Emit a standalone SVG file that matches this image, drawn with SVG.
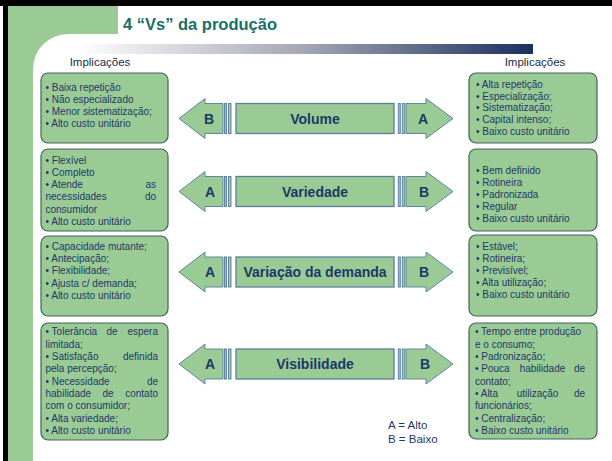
<svg xmlns="http://www.w3.org/2000/svg" xmlns:xlink="http://www.w3.org/1999/xlink" width="612" height="461" viewBox="0 0 612 461">
<defs>
<linearGradient id="bar" x1="0" y1="0" x2="1" y2="0">
<stop offset="0" stop-color="#ffffff"/>
<stop offset="0.5" stop-color="#a3a6b4"/>
<stop offset="1" stop-color="#1b2f5e"/>
</linearGradient>
<path id="larrow" d="M179,0 L205,-20 L205,-15 L223,-15 L223,15 L205,15 L205,20 Z"/>
<path id="rarrow" d="M453,0 L426,-20 L426,-15 L406,-15 L406,15 L426,15 L426,20 Z"/>
<g id="bars">
<rect x="224.5" y="-15" width="2" height="30"/>
<rect x="228.5" y="-15" width="2.5" height="30"/>
<rect x="398.3" y="-15" width="2" height="30"/>
<rect x="402.3" y="-15" width="2.5" height="30"/>
</g>
</defs>
<style>
.arr{fill:#9bcb95;stroke:#6184a6;stroke-width:1}
.main{fill:#9bcb95;stroke:#5c7d9c;stroke-width:1.3}
.box{fill:#9bcb95;stroke:#44625f;stroke-width:1.2}
.lbl{font-family:"Liberation Sans",Arial,sans-serif;font-weight:bold;font-size:14px;fill:#1b3868;text-anchor:middle}
.t{font-family:"Liberation Sans",Arial,sans-serif;font-size:10px;fill:#1b3868}
.e{text-anchor:end}
.m{text-anchor:middle}
.imp{font-family:"Liberation Sans",Arial,sans-serif;font-size:11.5px;fill:#1b2a48;text-anchor:middle}
</style>
<rect x="0" y="0" width="612" height="461" fill="#ffffff"/>
<g id="frame">
<rect x="0" y="0" width="612" height="6" fill="#000"/>
<rect x="3" y="0" width="5" height="461" fill="#000"/>
<path d="M8,6 H118 V34 H68 A35,35 0 0 0 33,69 V461 H8 Z" fill="#9bcb95"/>
</g>
<g id="title">
<text x="123" y="30" font-family="'Liberation Sans',Arial,sans-serif" font-weight="bold" font-size="16.5" fill="#17706b">4 “Vs” da produção</text>
<rect x="78" y="44" width="455" height="10" fill="url(#bar)"/>
</g>
<g id="headers">
<text class="imp" x="100" y="66">Implicações</text>
<text class="imp" x="535" y="66">Implicações</text>
</g>
<g id="connectors">
<g transform="translate(0,118.5)" class="arr"><use xlink:href="#larrow"/><use xlink:href="#rarrow"/><use xlink:href="#bars"/></g>
<g transform="translate(0,191.5)" class="arr"><use xlink:href="#larrow"/><use xlink:href="#rarrow"/><use xlink:href="#bars"/></g>
<g transform="translate(0,272)" class="arr"><use xlink:href="#larrow"/><use xlink:href="#rarrow"/><use xlink:href="#bars"/></g>
<g transform="translate(0,364)" class="arr"><use xlink:href="#larrow"/><use xlink:href="#rarrow"/><use xlink:href="#bars"/></g>
</g>
<g id="volume">
<rect class="main" x="236" y="103.5" width="158" height="30"/>
<text class="lbl" x="315" y="124">Volume</text>
<text class="lbl" x="209" y="123.5">B</text>
<text class="lbl" x="423" y="123.5">A</text>
</g>
<g id="variedade">
<rect class="main" x="236" y="176.5" width="158" height="30"/>
<text class="lbl" x="315" y="196.5">Variedade</text>
<text class="lbl" x="210" y="196.5">A</text>
<text class="lbl" x="424" y="196.5">B</text>
</g>
<g id="variacao">
<rect class="main" x="236" y="257" width="158" height="30"/>
<text class="lbl" x="315" y="277">Variação da demanda</text>
<text class="lbl" x="210" y="277">A</text>
<text class="lbl" x="424" y="277">B</text>
</g>
<g id="visibilidade">
<rect class="main" x="236" y="349" width="158" height="30"/>
<text class="lbl" x="315" y="369">Visibilidade</text>
<text class="lbl" x="210" y="369">A</text>
<text class="lbl" x="425" y="369">B</text>
</g>
<g id="left1">
<rect class="box" x="41" y="73" width="127" height="70" rx="7"/>
<text class="t"><tspan x="45.5" y="90.5">• Baixa repetição</tspan><tspan x="45.5" y="102.5">• Não especializado</tspan><tspan x="45.5" y="114.5">• Menor sistematização;</tspan><tspan x="45.5" y="126.5">• Alto custo unitário</tspan></text>
</g>
<g id="left2">
<rect class="box" x="41" y="149" width="127" height="82" rx="7"/>
<text class="t"><tspan x="45.5" y="163.5">• Flexível</tspan><tspan x="45.5" y="175.8">• Completo</tspan><tspan x="45.5" y="188.1">• Atende</tspan><tspan x="45.5" y="200.4">necessidades</tspan><tspan x="45.5" y="212.7">consumidor</tspan><tspan x="45.5" y="225">• Alto custo unitário</tspan></text>
<text class="t e"><tspan x="156" y="188.1">as</tspan><tspan x="156" y="200.4">do</tspan></text>
</g>
<g id="left3">
<rect class="box" x="41" y="236" width="127" height="80" rx="7"/>
<text class="t"><tspan x="45.5" y="249.7">• Capacidade mutante;</tspan><tspan x="45.5" y="262">• Antecipação;</tspan><tspan x="45.5" y="274.3">• Flexibilidade;</tspan><tspan x="45.5" y="286.6">• Ajusta c/ demanda;</tspan><tspan x="45.5" y="299">• Alto custo unitário</tspan></text>
</g>
<g id="left4">
<rect class="box" x="41" y="323" width="127" height="117" rx="7"/>
<text class="t"><tspan x="45.5" y="335.4">• Tolerância</tspan><tspan x="45.5" y="347.7">limitada;</tspan><tspan x="45.5" y="360">• Satisfação</tspan><tspan x="45.5" y="372.3">pela percepção;</tspan><tspan x="45.5" y="384.6">• Necessidade</tspan><tspan x="45.5" y="396.9">habilidade</tspan><tspan x="45.5" y="409.2">com o consumidor;</tspan><tspan x="45.5" y="421.5">• Alta variedade;</tspan><tspan x="45.5" y="433.8">• Alto custo unitário</tspan></text>
<text class="t m"><tspan x="112" y="335.4">de</tspan><tspan x="108" y="396.9">de</tspan></text>
<text class="t e"><tspan x="158" y="335.4">espera</tspan><tspan x="158" y="360">definida</tspan><tspan x="158" y="384.6">de</tspan><tspan x="158" y="396.9">contato</tspan></text>
</g>
<g id="right1">
<rect class="box" x="469" y="73" width="128" height="70" rx="7"/>
<text class="t"><tspan x="476" y="87.7">• Alta repetição</tspan><tspan x="476" y="99.5">• Especialização;</tspan><tspan x="476" y="111.3">• Sistematização;</tspan><tspan x="476" y="123.1">• Capital intenso;</tspan><tspan x="476" y="134.9">• Baixo custo unitário</tspan></text>
</g>
<g id="right2">
<rect class="box" x="469" y="149" width="128" height="82" rx="7"/>
<text class="t"><tspan x="476" y="173.7">• Bem definido</tspan><tspan x="476" y="185.7">• Rotineira</tspan><tspan x="476" y="197.7">• Padronizada</tspan><tspan x="476" y="209.7">• Regular</tspan><tspan x="476" y="221.7">• Baixo custo unitário</tspan></text>
</g>
<g id="right3">
<rect class="box" x="469" y="235" width="128" height="81" rx="7"/>
<text class="t"><tspan x="476" y="249.7">• Estável;</tspan><tspan x="476" y="261.8">• Rotineira;</tspan><tspan x="476" y="273.9">• Previsível;</tspan><tspan x="476" y="286">• Alta utilização;</tspan><tspan x="476" y="298.1">• Baixo custo unitário</tspan></text>
</g>
<g id="right4">
<rect class="box" x="469" y="323" width="128" height="116" rx="7"/>
<text class="t"><tspan x="475" y="335.4">• Tempo entre produção</tspan><tspan x="475" y="347.7">e o consumo;</tspan><tspan x="475" y="360">• Padronização;</tspan><tspan x="475" y="372.3">• Pouca</tspan><tspan x="475" y="384.6">contato;</tspan><tspan x="475" y="396.9">• Alta</tspan><tspan x="475" y="409.2">funcionários;</tspan><tspan x="475" y="421.5">• Centralização;</tspan><tspan x="475" y="433.8">• Baixo custo unitário</tspan></text>
<text class="t m"><tspan x="542.5" y="372.3">habilidade</tspan><tspan x="537.5" y="396.9">utilização</tspan></text>
<text class="t e"><tspan x="585" y="372.3">de</tspan><tspan x="585" y="396.9">de</tspan></text>
</g>
<g id="legend">
<text font-family="'Liberation Sans',Arial,sans-serif" font-size="11.5" fill="#1b3868"><tspan x="388" y="429">A = Alto</tspan><tspan x="388" y="443">B = Baixo</tspan></text>
</g>
</svg>
